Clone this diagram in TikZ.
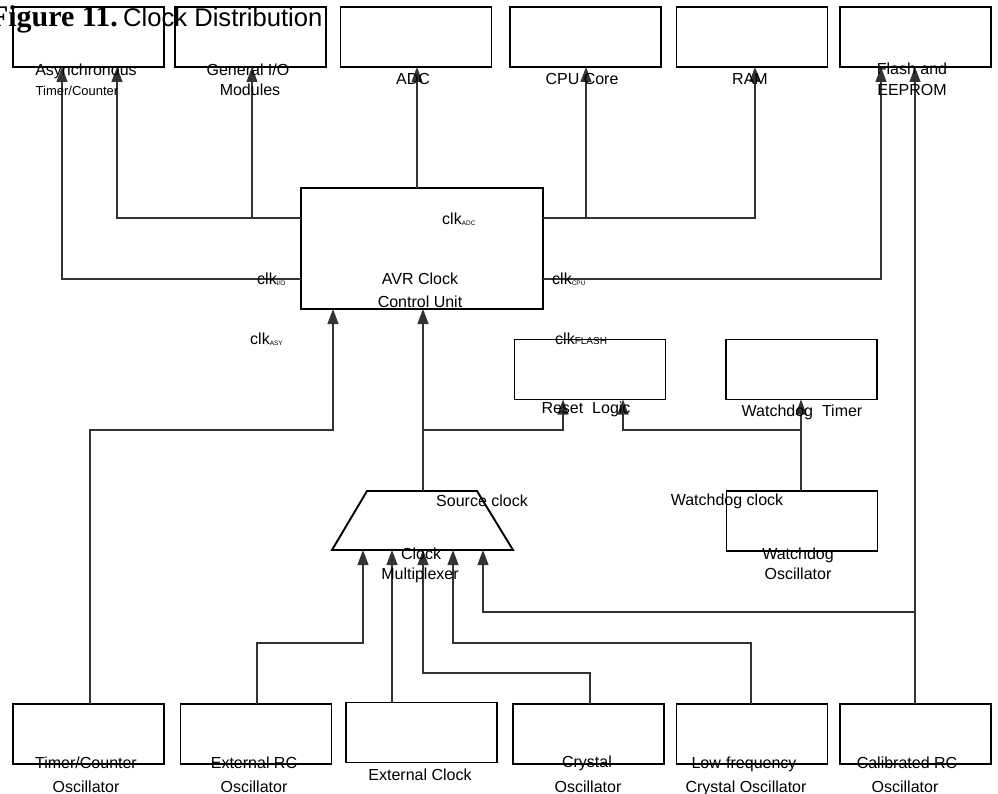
\documentclass[tikz,border=0pt]{standalone}
\usepackage{fontspec}
\setmainfont{Liberation Sans}
\newfontfamily\serifb{Liberation Serif}
\usetikzlibrary{arrows.meta}
\begin{document}
\begin{tikzpicture}[x=1pt,y=-1pt,
 box/.style={draw, line width=1.9pt, minimum width=151pt, minimum height=60pt, inner sep=0pt, outer sep=0pt},
 lbl/.style={font=\fontsize{16}{18}\selectfont, anchor=base, inner sep=0pt},
 sm/.style={font=\fontsize{13}{15}\selectfont, anchor=base, inner sep=0pt},
 wire/.style={line width=1.1pt, black!80},
 arr/.style={wire, -{Triangle[length=15pt,width=11pt]}},
]
\useasboundingbox (0,0) rectangle (998,794);

% title
\node[anchor=base east, inner sep=0pt, font=\serifb\bfseries\fontsize{30}{32}\selectfont] (fig) at (118,27) {Figure 11.};
\node[anchor=base west, inner sep=0pt, font=\fontsize{25.6}{28}\selectfont] (ttl) at (123,27) {Clock Distribution};

% top boxes
\node[box] (asy) at (88.5,37) {};
\node[box] (gio) at (250.5,37) {};
\node[box] (adc) at (416,37) {};
\node[box] (cpu) at (585.5,37) {};
\node[box] (ram) at (752,37) {};
\node[box] (flash) at (915.5,37) {};

% central unit
\node[box, minimum width=242pt, minimum height=121pt] (ccu) at (422,248.5) {};

% reset and watchdog
\node[box] (reset) at (590,369.5) {};
\node[box] (wdt) at (801.5,369.5) {};
\node[box] (wdo) at (802,521) {};

% multiplexer
\draw[line width=1.9pt] (332,550) -- (367,491) -- (477,491) -- (513,550) -- cycle;
\coordinate (muxb) at (422,550);
\coordinate (muxt) at (422,491);

% bottom boxes
\node[box] (tco) at (88.5,734) {};
\node[box] (extrc) at (256,734) {};
\node[box] (extclk) at (421.5,732.5) {};
\node[box] (crys) at (588.5,734) {};
\node[box] (lowf) at (752,734) {};
\node[box] (cal) at (915.5,734) {};

% junction coordinates
\coordinate (j1) at (117,218);
\coordinate (j2) at (252,218);
\coordinate (j3) at (62,279);
\coordinate (j4) at (755,218);
\coordinate (j5) at (586,218);
\coordinate (j6) at (881,279);
\coordinate (j7) at (483,612);
\coordinate (j8) at (915,612);
\coordinate (j9) at (90,430);
\coordinate (j10) at (333,430);
\coordinate (j11) at (257,643);
\coordinate (j12) at (363,643);
\coordinate (j13) at (590,673);
\coordinate (j14) at (423,673);
\coordinate (j15) at (751,643);
\coordinate (j16) at (453,643);
\coordinate (j17) at (423,430);
\coordinate (j18) at (563,430);
\coordinate (j19) at (801,430);
\coordinate (j20) at (623,430);
\coordinate (j21) at (392,600);
\coordinate (j22) at (417,100);

% connectors
\draw[arr] (ccu.west |- j1) -- (j1) -- (j1 |- asy.south);
\draw[arr] (j2) -- (j2 |- gio.south);
\draw[arr] (ccu.west |- j3) -- (j3) -- (j3 |- asy.south);
\draw[arr] (ccu.north -| j22) -- (j22 |- adc.south);
\draw[arr] (ccu.east |- j4) -- (j4) -- (j4 |- ram.south);
\draw[arr] (j5) -- (j5 |- cpu.south);
\draw[arr] (ccu.east |- j6) -- (j6) -- (j6 |- flash.south);
\draw[arr] (cal.north -| j8) -- (j8 |- flash.south);
\draw[arr] (j8) -- (j7) -- (j7 |- muxb);
\draw[arr] (tco.north -| j9) -- (j9) -- (j10) -- (j10 |- ccu.south);
\draw[arr] (extrc.north -| j11) -- (j11) -- (j12) -- (j12 |- muxb);
\draw[arr] (extclk.north -| j21) -- (j21 |- muxb);
\draw[arr] (crys.north -| j13) -- (j13) -- (j14) -- (j14 |- muxb);
\draw[arr] (lowf.north -| j15) -- (j15) -- (j16) -- (j16 |- muxb);
\draw[arr] (muxt -| j17) -- (j17 |- ccu.south);
\draw[arr] (j17) -- (j18) -- (j18 |- reset.south);
\draw[arr] (wdo.north -| j19) -- (j19 |- wdt.south);
\draw[arr] (j19) -- (j20) -- (j20 |- reset.south);

% top labels
\node[lbl] (l1a) at (86,76) {Asynchronous};
\node[sm] (l1b) at (77,96) {Timer/Counter};
\node[lbl] (l2a) at (248,76) {General I/O};
\node[lbl] (l2b) at (250,96) {Modules};
\node[lbl] (l3) at (413,85) {ADC};
\node[lbl] (l4) at (582,85) {CPU Core};
\node[lbl] (l5) at (750,85) {RAM};
\node[lbl] (l6a) at (912,75) {Flash and};
\node[lbl] (l6b) at (912,96) {EEPROM};

% clock unit labels
\node[lbl] (c1) at (420,284) {AVR Clock};
\node[lbl] (c2) at (420,307) {Control Unit};
\node[lbl, anchor=base west] (kadc) at (442,225) {clk\raisebox{-1pt}{\fontsize{6.5}{7}\selectfont ADC}};
\node[lbl, anchor=base west] (kio) at (257,284) {clk\raisebox{-1pt}{\fontsize{6.5}{7}\selectfont I/O}};
\node[lbl, anchor=base west] (kasy) at (250,344) {clk\raisebox{-1pt}{\fontsize{6.5}{7}\selectfont ASY}};
\node[lbl, anchor=base west] (kcpu) at (552,284) {clk\raisebox{-1pt}{\fontsize{6.5}{7}\selectfont CPU}};
\node[lbl, anchor=base west] (kfl) at (555,344) {clk{\fontsize{10}{11}\selectfont FLASH}};

% reset / watchdog labels
\node[lbl] (rl) at (586,413) {Reset~~Logic};
\node[lbl] (wl) at (802,416) {Watchdog~~Timer};
\node[lbl] (sc) at (482,506) {Source clock};
\node[lbl] (wc) at (727,505) {Watchdog clock};
\node[lbl] (m1) at (421,559) {Clock};
\node[lbl] (m2) at (420,579) {Multiplexer};
\node[lbl] (w1) at (798,559) {Watchdog};
\node[lbl] (w2) at (798,579) {Oscillator};

% bottom labels
\node[lbl] (b1a) at (86,768) {Timer/Counter};
\node[lbl] (b1b) at (86,792) {Oscillator};
\node[lbl] (b2a) at (254,768) {External RC};
\node[lbl] (b2b) at (254,792) {Oscillator};
\node[lbl] (b3) at (420,780) {External Clock};
\node[lbl] (b4a) at (587,767) {Crystal};
\node[lbl] (b4b) at (588,792) {Oscillator};
\node[lbl] (b5a) at (744,768) {Low-frequency};
\node[lbl] (b5b) at (746,792) {Crystal Oscillator};
\node[lbl] (b6a) at (907,768) {Calibrated RC};
\node[lbl] (b6b) at (905,792) {Oscillator};
\end{tikzpicture}
\end{document}
